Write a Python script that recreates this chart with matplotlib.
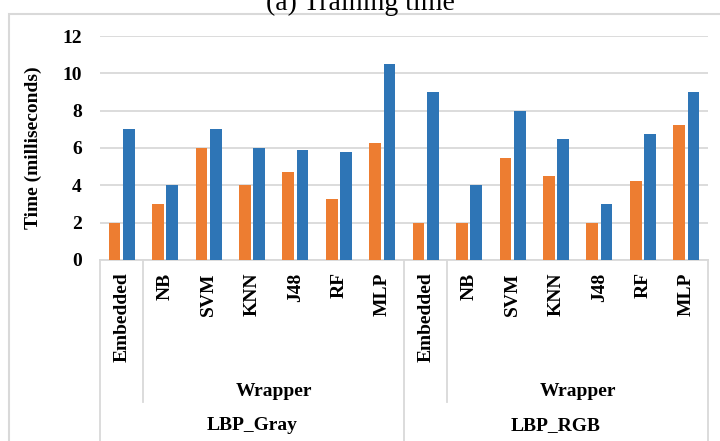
import matplotlib
matplotlib.use('Agg')
import matplotlib.pyplot as plt
from matplotlib.patches import Rectangle
from matplotlib.lines import Line2D
import numpy as np

# Training time (ms) per classifier
classifiers = ['Embedded', 'NB', 'SVM', 'KNN', 'J48', 'RF', 'MLP']
groups = ['LBP_Gray', 'LBP_RGB']
orange_gray = [2, 3, 6, 4, 4.7, 3.25, 6.25]
blue_gray = [7, 4, 7, 6, 5.9, 5.8, 10.5]
orange_rgb = [2, 2, 5.45, 4.5, 2, 4.25, 7.25]
blue_rgb = [9, 4, 8, 6.5, 3, 6.75, 9]
yticks = [0, 2, 4, 6, 8, 10, 12]

ORANGE = '#ED7D31'
BLUE = '#2E75B6'
GRID = '#D9D9D9'
serif = ['Liberation Serif', 'DejaVu Serif']

fig = plt.figure(figsize=(7.2, 4.41), dpi=100)
W, H = 720, 441
ax = fig.add_axes([100 / W, (H - 260) / H, 608 / W, 224 / H])

labels = classifiers + classifiers
orange = orange_gray + orange_rgb
blue = blue_gray + blue_rgb
x = np.arange(len(labels))
bw = 0.27
ax.bar(x - 0.165, orange, width=bw, color=ORANGE, zorder=3)
ax.bar(x + 0.165, blue, width=bw, color=BLUE, zorder=3)

ax.set_xlim(-0.5, len(labels) - 0.5)
ax.set_ylim(0, 12)
ax.set_yticks(yticks)
ax.set_yticklabels([str(t) for t in yticks], fontsize=14,
                   fontweight='bold', family=serif)
ax.grid(axis='y', color=GRID, linewidth=1.3, zorder=0)
for s in ['top', 'left', 'right']:
    ax.spines[s].set_visible(False)
ax.spines['bottom'].set_color(GRID)
ax.spines['bottom'].set_linewidth(1.3)
ax.tick_params(axis='y', length=0, pad=13)
ax.tick_params(axis='x', length=0, pad=9)
ax.set_xticks(x)
ax.set_xticklabels(labels, rotation=90, fontsize=14, fontweight='bold',
                   family=serif, va='top', ha='center')
ax.set_ylabel('Time (milliseconds)', fontsize=14, fontweight='bold',
              family=serif)
ax.yaxis.set_label_coords(-0.095, 0.5)

# category table lines below the axis
trans = ax.get_xaxis_transform()
for xv in [-0.5, 6.5, 13.5]:
    ax.add_line(Line2D([xv, xv], [0, -0.82], transform=trans, color=GRID,
                       linewidth=1.3, clip_on=False))
for xv in [0.5, 7.5]:
    ax.add_line(Line2D([xv, xv], [0, -0.634], transform=trans, color=GRID,
                       linewidth=1.3, clip_on=False))

for i, g in enumerate(groups):
    off = i * 7
    ax.text(off + 3.5, -0.585, 'Wrapper', transform=trans, ha='center',
            va='center', fontsize=14, fontweight='bold', family=serif)
    ax.text(off + 3, -0.741, g, transform=trans, ha='center', va='center',
            fontsize=14, fontweight='bold', family=serif)

# outer chart border
fig.add_artist(Rectangle((8.5 / W, -0.05), 1.1, (H - 13.5) / H + 0.05,
                         transform=fig.transFigure, fill=False,
                         edgecolor=GRID, linewidth=1.5))

fig.text(0.5, 1 - 10 / H, '(a) Training time', ha='center', va='baseline',
         fontsize=20, family=serif)

fig.savefig('out.png', dpi=100)
